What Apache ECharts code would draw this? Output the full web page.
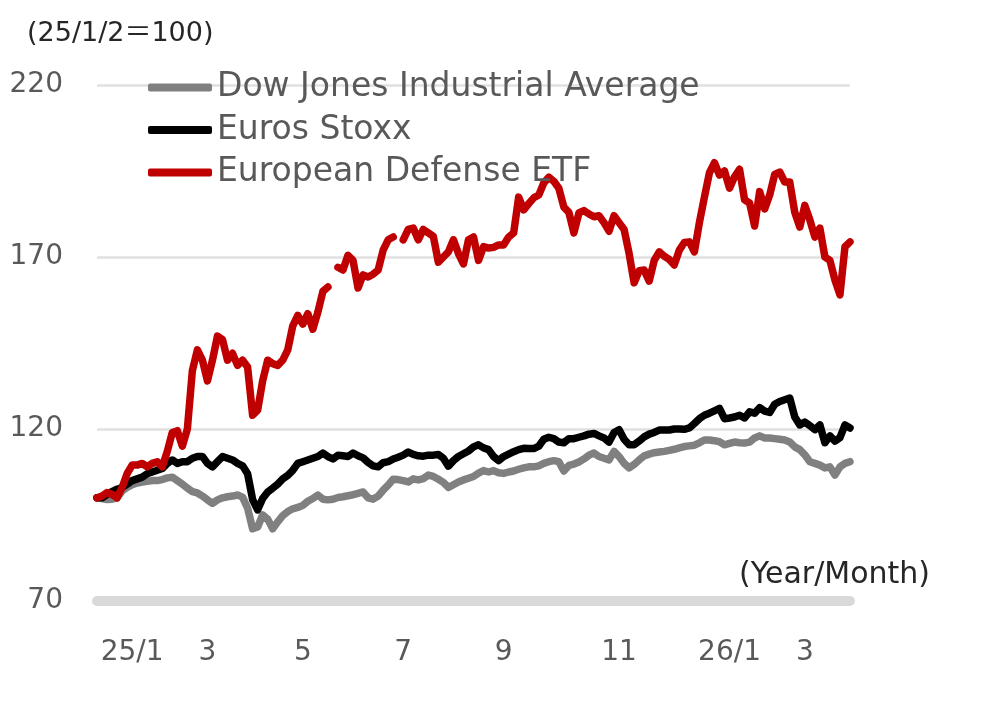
<!DOCTYPE html>
<html>
<head>
  <meta charset="utf-8">
  <title>Defense ETF vs indices</title>
  <script src="https://cdn.jsdelivr.net/npm/echarts@6/dist/echarts.min.js"></script>
  <style>
    body { margin: 0; background: #fff; }
    #chart { width: 1000px; height: 719px; }
  </style>
</head>
<body>
  <div id="chart"></div>
  <script>
    // one point every few trading days, 25/1/2 = 100
    const dowJones = [
      100, 99.8, 99.5, 99.6, 100, 102, 103, 103.8, 104.3, 104.6,
      104.8, 105, 105, 105.3, 105.8, 106, 105, 104, 102.8, 101.8,
      101.4, 100.5, 99.4, 98.4, 99.4, 100, 100.3, 100.5, 100.8, 100.2,
      97, 91, 91.5, 95, 93.8, 91, 93, 94.8, 96, 96.8,
      97.2, 97.8, 99, 99.8, 100.8, 99.6, 99.4, 99.6, 100.1, 100.3,
      100.6, 100.9, 101.3, 101.7, 100, 99.6, 100.5, 102.2, 103.7, 105.4,
      105.3, 105, 104.6, 105.5, 105.2, 105.6, 106.6, 106.2, 105.4, 104.5,
      103, 103.8, 104.6, 105.2, 105.7, 106.2, 107.2, 107.9, 107.5, 107.9,
      107.3, 107.1, 107.5, 107.8, 108.3, 108.7, 109, 109, 109.3, 110,
      110.5, 110.8, 110.5, 107.8, 109.4, 109.8, 110.4, 111.3, 112.4, 113,
      112, 111.5, 111, 113.5, 112, 110, 108.7, 109.7, 111, 112.2,
      112.7, 113.1, 113.3, 113.5, 113.8, 114.1, 114.5, 114.9, 115.1, 115.3,
      116, 116.8, 116.8, 116.6, 116.3, 115.4, 115.8, 116.2, 116, 115.9,
      116.2, 117.4, 118, 117.4, 117.4, 117.2, 117, 116.8, 116.2, 114.8,
      114, 112.5, 110.5, 110, 109.5, 108.7, 109, 106.6, 109, 110, 110.5
    ];
    const eurosStoxx = [
      100, 100, 101, 101.8, 102.5, 103, 104, 105, 105.5, 106,
      107, 107.5, 108, 108.5, 110, 111, 110, 110.5, 110.5, 111.5,
      112, 112, 110, 109, 110.5, 112, 111.5, 111, 110, 109.3,
      107, 99.5, 96.5, 99.8, 101.7, 102.8, 104, 105.5, 106.5, 108,
      110, 110.5, 111, 111.5, 112, 113, 112, 111.3, 112.4, 112.2,
      112, 113, 112.2, 111.6, 110.3, 109.3, 109, 110.2, 110.5, 111.3,
      111.8, 112.4, 113.3, 112.6, 112.2, 112.1, 112.4, 112.4, 112.6, 111.5,
      109.2, 110.8, 112, 112.8, 113.6, 114.8, 115.4, 114.5, 114, 112,
      110.8, 112, 112.7, 113.4, 114, 114.4, 114.3, 114.3, 115, 117,
      117.6, 117.2, 116.2, 116, 117.2, 117.2, 117.6, 118, 118.5, 118.7,
      118, 117.4, 116.2, 119, 119.8, 117, 115.4, 115.4, 116.5, 117.7,
      118.5, 119, 119.7, 119.7, 119.7, 120, 120, 119.9, 120.3, 121.6,
      123, 124, 124.6, 125.3, 126, 123, 123.2, 123.5, 124, 123.2,
      125, 124.6, 126.2, 125.2, 124.8, 127.2, 128, 128.5, 129, 123.5,
      121.2, 122, 121, 119.8, 121.2, 116, 118, 116.5, 117.5, 121.2, 120.3
    ];
    const defenseEtf = [
      100, 100.5, 101.5, 101, 100, 103, 107, 109.5, 109.5, 110,
      109, 110, 110.5, 109, 113.5, 119, 119.5, 115, 120, 137,
      143, 140, 134, 140, 147, 146, 140, 142, 138.5, 140,
      138, 124, 125.5, 134, 140, 139, 138.5, 140, 143, 150,
      153, 150.5, 153.5, 149, 154, 160, 161.3, null, 167, 166.2,
      170.5, 169, 161, 164.8, 164.2, 165, 166.2, 172, 175, 175.8,
      null, 175, 178, 178.4, 175, 178, 177, 176, 168.5, 170,
      171.5, 175, 171, 168, 175, 175.8, 169, 173, 172.6, 172.8,
      173.5, 173.5, 175.8, 177, 187.4, 183.7, 185.5, 187.2, 188, 191.5,
      193.2, 192, 190, 184.5, 183, 177, 182.8, 183.5, 182.5, 181.7,
      182, 180, 177.5, 182, 180, 178, 171, 162.5, 166, 166.2,
      163, 169, 171.5, 170.2, 169.3, 167.7, 172, 174.2, 174.4, 171.5,
      180, 187.4, 194.5, 197.4, 193.8, 195, 190, 193.3, 195.5, 186.6,
      185.7, 179, 189, 184, 188, 194, 194.7, 191.8, 191.8, 183,
      178.7, 185, 180.8, 175.8, 178.4, 170, 169, 163.3, 159, 173, 174.4
    ];

    const tickIndex = [7, 22, 41, 61, 81, 104, 126, 141];
    const tickText = ['25/1', '3', '5', '7', '9', '11', '26/1', '3'];
    const yTicks = [70, 120, 170, 220];

    const categories = dowJones.map(function (v, i) {
      const k = tickIndex.indexOf(i);
      return k >= 0 ? tickText[k] : '';
    });

    const font = 'DejaVu Sans';
    const chart = echarts.init(document.getElementById('chart'));

    function lineSeries(name, data, color) {
      return {
        name: name,
        type: 'line',
        data: data,
        symbol: 'none',
        connectNulls: false,
        animation: false,
        itemStyle: { color: color },
        lineStyle: { color: color, width: 7.5, cap: 'round', join: 'round' }
      };
    }

    chart.setOption({
      animation: false,
      grid: { left: 97, right: 150, top: 85, bottom: 118 },
      legend: {
        orient: 'vertical',
        left: 148,
        top: 71,
        padding: 0,
        itemWidth: 64,
        itemHeight: 8,
        itemGap: 9.5,
        icon: 'roundRect',
        textStyle: { fontFamily: font, fontSize: 33, color: '#595959', lineHeight: 30 },
        data: ['Dow Jones Industrial Average', 'Euros Stoxx', 'European Defense ETF']
      },
      xAxis: {
        type: 'category',
        data: categories,
        boundaryGap: false,
        axisLine: { lineStyle: { color: '#d9d9d9', width: 10 } },
        axisTick: { show: false },
        axisLabel: {
          interval: 0,
          margin: 38,
          fontFamily: font,
          fontSize: 28,
          color: '#595959'
        },
        splitLine: { show: false }
      },
      yAxis: {
        type: 'value',
        min: yTicks[0],
        max: yTicks[yTicks.length - 1],
        interval: 50,
        axisLine: { show: false },
        axisTick: { show: false },
        axisLabel: { margin: 34, fontFamily: font, fontSize: 28, color: '#595959' },
        splitLine: { lineStyle: { color: '#e0e0e0', width: 2.5 } }
      },
      graphic: [
        {
          type: 'text', left: 27, top: 20,
          style: { text: '(25/1/2＝100)', font: '27px "DejaVu Sans", "Noto Sans CJK JP"', fill: '#262626' }
        },
        {
          type: 'text', right: 70, top: 560,
          style: { text: '(Year/Month)', font: '30px "DejaVu Sans"', fill: '#262626' }
        }
      ],
      series: [
        lineSeries('Dow Jones Industrial Average', dowJones, '#808080'),
        lineSeries('Euros Stoxx', eurosStoxx, '#000000'),
        lineSeries('European Defense ETF', defenseEtf, '#c00000')
      ]
    });
  </script>
</body>
</html>
